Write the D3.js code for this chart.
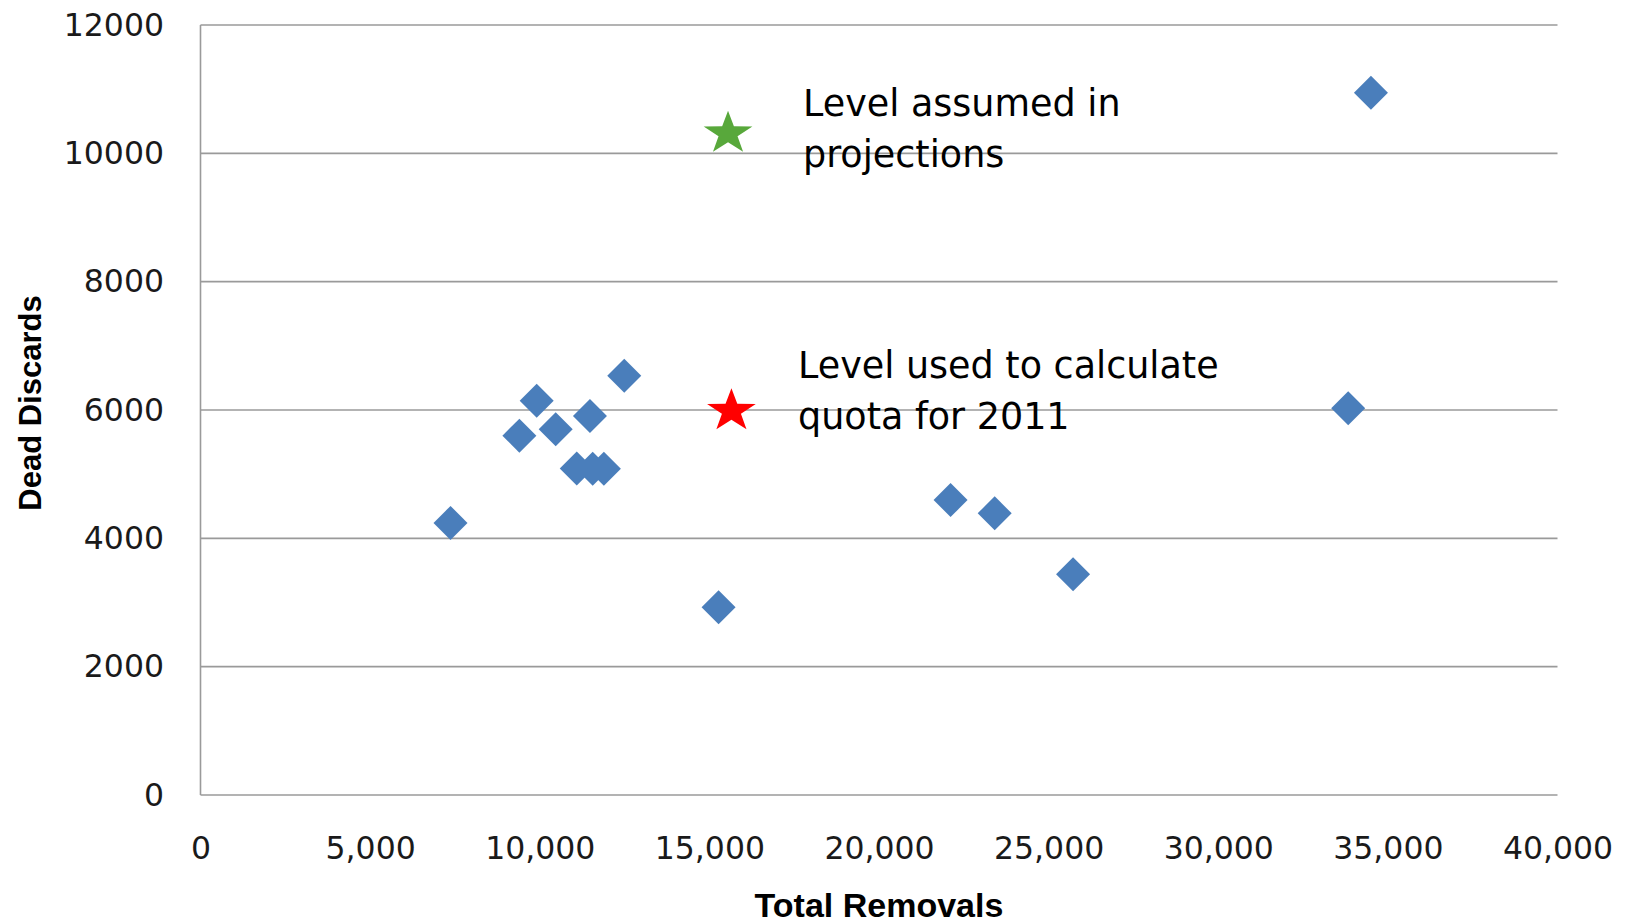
<!DOCTYPE html>
<html>
<head>
<meta charset="utf-8">
<script src="https://cdn.jsdelivr.net/npm/d3@7"></script>
<style>
  html, body { margin: 0; padding: 0; background: #fff; }
  svg { display: block; }
</style>
</head>
<body>
<svg id="chart" width="1628" height="923"></svg>
<script>
// ---- data ----
const removals = [7370, 9400, 9910, 10470, 11480, 12490, 11090, 11560, 11890, 15270, 22110, 23410, 25720, 33830, 34500];
const discards = [4240, 5600, 6145, 5700, 5905, 6535, 5090, 5085, 5085, 2925, 4597, 4390, 3440, 6026, 10945];

const starX = [15550, 15650];
const starY = [10310, 5985];
const starColors = ["#58A83B", "#FF0000"];
const starLines = [["Level assumed in", "projections"], ["Level used to calculate", "quota for 2011"]];

const xTicks = [0, 5000, 10000, 15000, 20000, 25000, 30000, 35000, 40000];
const yTicks = [0, 2000, 4000, 6000, 8000, 10000, 12000];
const xTitle = "Total Removals";
const yTitle = "Dead Discards";

// ---- layout ----
const svg = d3.select("#chart");
const pLeft = 200.5, pRight = 1557.5, pTop = 25, pBottom = 795;
const x = d3.scaleLinear().domain([0, 40000]).range([pLeft, pRight]);
const y = d3.scaleLinear().domain([0, 12000]).range([pBottom, pTop]);
const tickFont = "'DejaVu Sans', Verdana, sans-serif";

// gridlines
svg.append("g").selectAll("line").data(yTicks).join("line")
  .attr("x1", pLeft).attr("x2", pRight)
  .attr("y1", d => y(d)).attr("y2", d => y(d))
  .attr("stroke", "#9a9a9a").attr("stroke-width", 1.6);

// left axis line
svg.append("line")
  .attr("x1", pLeft).attr("x2", pLeft).attr("y1", y(12000)).attr("y2", y(0))
  .attr("stroke", "#9a9a9a").attr("stroke-width", 1.6);

// y axis labels
const yAxis = svg.append("g").attr("transform", `translate(${pLeft},0)`)
  .call(d3.axisLeft(y).tickValues(yTicks).tickSize(0).tickPadding(36.5).tickFormat(d3.format("d")));
yAxis.select(".domain").remove();
yAxis.selectAll("text").attr("font-family", tickFont).attr("font-size", 31.5).attr("fill", "#1a1a1a");

// x axis labels
const xAxis = svg.append("g").attr("transform", `translate(0,${pBottom})`)
  .call(d3.axisBottom(x).tickValues(xTicks).tickSize(0).tickFormat(d3.format(",")));
xAxis.select(".domain").remove();
xAxis.selectAll("text").attr("font-family", tickFont).attr("font-size", 31.5).attr("fill", "#1a1a1a")
  .attr("dy", null).attr("y", 64);

// axis titles
svg.append("text").text(xTitle)
  .attr("x", (pLeft + pRight) / 2).attr("y", 917)
  .attr("text-anchor", "middle")
  .attr("font-family", "'Liberation Sans', Arial, sans-serif")
  .attr("font-weight", "bold").attr("font-size", 34).attr("fill", "#000");

svg.append("text").text(yTitle)
  .attr("transform", "translate(41,403) rotate(-90)")
  .attr("text-anchor", "middle")
  .attr("font-family", "'Liberation Sans', Arial, sans-serif")
  .attr("font-weight", "bold").attr("font-size", 31).attr("fill", "#000");

// diamonds
const ds = 17;
const diamond = `M0,${-ds}L${ds},0L0,${ds}L${-ds},0Z`;
svg.append("g").selectAll("path").data(removals.map((r, i) => [r, discards[i]])).join("path")
  .attr("d", diamond)
  .attr("transform", d => `translate(${x(d[0])},${y(d[1])})`)
  .attr("fill", "#4A7EBB");

// stars
function starPath(rx, ry, ratio) {
  const pts = [];
  for (let i = 0; i < 10; i++) {
    const a = -Math.PI / 2 + i * Math.PI / 5;
    const k = i % 2 === 0 ? 1 : ratio;
    pts.push([Math.cos(a) * rx * k, Math.sin(a) * ry * k]);
  }
  return "M" + pts.map(p => p[0].toFixed(2) + "," + p[1].toFixed(2)).join("L") + "Z";
}
const sp = starPath(25.6, 22.7, 0.39);
svg.append("g").selectAll("path").data(starX.map((v, i) => i)).join("path")
  .attr("d", sp)
  .attr("transform", i => `translate(${x(starX[i])},${y(starY[i])})`)
  .attr("fill", i => starColors[i]);

// annotations
const annoX = [803, 798];
const annoY = [116, 378];
starLines.forEach((lines, i) => {
  const t = svg.append("text")
    .attr("font-family", tickFont).attr("font-size", 36.5).attr("fill", "#000");
  lines.forEach((ln, j) => {
    t.append("tspan").attr("x", annoX[i]).attr("y", annoY[i] + j * 51).text(ln);
  });
});
</script>
</body>
</html>
